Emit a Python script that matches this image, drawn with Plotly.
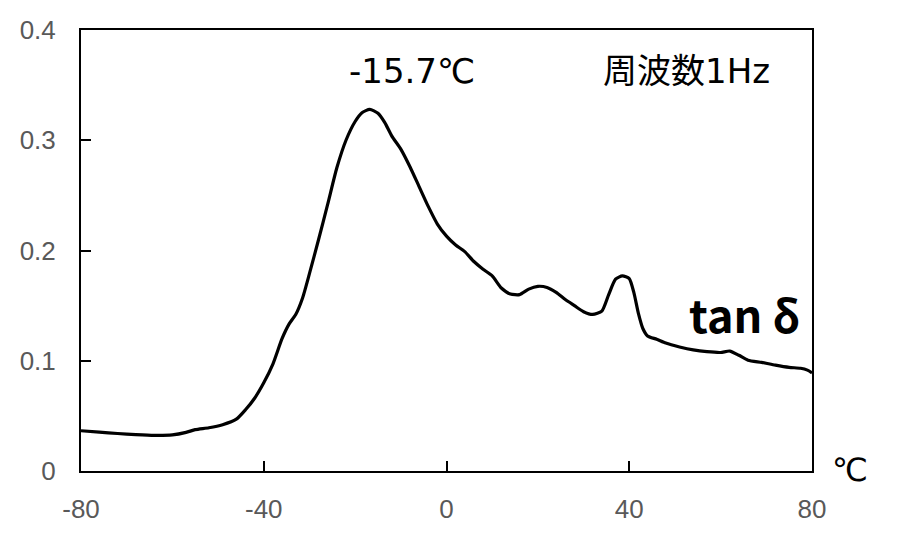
import plotly.graph_objects as go

temperature_c = [-80, -76, -72, -68, -64, -60, -57, -55, -52, -49, -46, -44, -42, -40, -38, -36,
                 -34.5, -33, -31.5, -30, -28, -26, -24, -22, -20, -18.5, -16.8, -15, -13.5, -12,
                 -10, -8, -6, -4, -2, 0, 2, 4, 6, 8, 10, 12, 14, 16, 18, 20, 22, 24, 26, 28, 30,
                 32, 34, 35.5, 37, 38.5, 40, 41, 42, 43, 44, 46, 48, 51, 54, 57, 60, 62, 64, 66,
                 69, 72, 75, 77.5, 79, 80]
tan_delta = [0.0365, 0.0353, 0.0340, 0.0330, 0.0323, 0.0327, 0.0350, 0.0375, 0.0392, 0.0420,
             0.0470, 0.0555, 0.0660, 0.0800, 0.0970, 0.1200, 0.1330, 0.1420, 0.1570, 0.1790,
             0.2100, 0.2420, 0.2750, 0.3000, 0.3170, 0.3250, 0.3280, 0.3245, 0.3160, 0.3040,
             0.2920, 0.2760, 0.2580, 0.2400, 0.2240, 0.2130, 0.2050, 0.1990, 0.1900, 0.1830,
             0.1770, 0.1660, 0.1605, 0.1600, 0.1650, 0.1675, 0.1665, 0.1620, 0.1555, 0.1500,
             0.1445, 0.1420, 0.1450, 0.1600, 0.1740, 0.1770, 0.1745, 0.1620, 0.1430, 0.1290,
             0.1225, 0.1195, 0.1160, 0.1125, 0.1098, 0.1082, 0.1075, 0.1088, 0.1050, 0.1005,
             0.0985, 0.0960, 0.0940, 0.0932, 0.0915, 0.0890]

x_ticks = [-80, -40, 0, 40, 80]
x_tick_labels = ["-80", "-40", "0", "40", "80"]
y_ticks = [0, 0.1, 0.2, 0.3, 0.4]
y_tick_labels = ["0", "0.1", "0.2", "0.3", "0.4"]

peak_label = "-15.7℃"
freq_label = "周波数1Hz"
series_label = "<b>tan δ</b>"
unit_label = "℃"

tick_font = dict(family="Liberation Sans, Arial, sans-serif", size=26, color="#595959")
ann_font = "DejaVu Sans, Noto Sans CJK JP, sans-serif"
bold_font = "Noto Sans CJK JP, sans-serif"

W, H = 903, 543
L, R, T, B = 81, 91, 30, 72
pw, ph = W - L - R, H - T - B


def px(xp):
    return (xp - L) / pw


def py(yp):
    return (H - B - yp) / ph


fig = go.Figure()
fig.add_trace(go.Scatter(
    x=temperature_c, y=tan_delta, mode="lines",
    line=dict(color="black", width=3.2, shape="spline", smoothing=0.6),
    showlegend=False, hoverinfo="skip"))

axis_common = dict(showgrid=False, zeroline=False, showline=True, linecolor="black",
                   linewidth=2, mirror=True, ticks="inside", ticklen=10, tickwidth=2,
                   tickcolor="black", tickfont=tick_font)

fig.update_layout(
    width=W, height=H,
    margin=dict(l=L, r=R, t=T, b=B),
    paper_bgcolor="white", plot_bgcolor="white",
    xaxis=dict(range=[-80, 80], tickvals=x_ticks, ticktext=x_tick_labels,
               ticklabelstandoff=14, **axis_common),
    yaxis=dict(range=[0, 0.4], tickvals=y_ticks, ticktext=y_tick_labels,
               ticklabelstandoff=18, **axis_common),
    annotations=[
        dict(x=px(412), y=py(71), xref="paper", yref="paper", text=peak_label,
             showarrow=False, xanchor="center", yanchor="middle",
             font=dict(family=ann_font, size=34, color="black")),
        dict(x=px(686), y=py(71), xref="paper", yref="paper", text=freq_label,
             showarrow=False, xanchor="center", yanchor="middle",
             font=dict(family=ann_font, size=34, color="black")),
        dict(x=px(744), y=py(313), xref="paper", yref="paper", text=series_label,
             showarrow=False, xanchor="center", yanchor="middle",
             font=dict(family=bold_font, size=45, color="black")),
        dict(x=px(850), y=py(470), xref="paper", yref="paper", text=unit_label,
             showarrow=False, xanchor="center", yanchor="middle",
             font=dict(family=ann_font, size=32, color="black")),
    ],
)

fig.write_html("out.html", config={"displayModeBar": False},
               post_script="document.body.style.margin='0';")
